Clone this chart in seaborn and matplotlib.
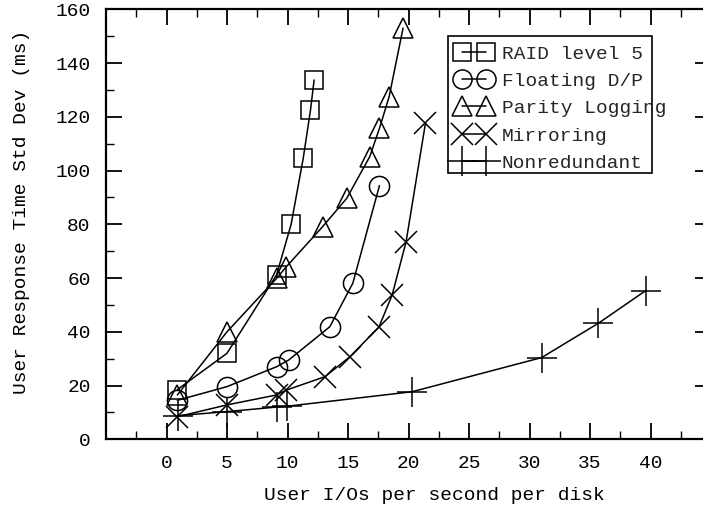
import matplotlib
matplotlib.use("Agg")
import matplotlib.pyplot as plt
import seaborn as sns
import pandas as pd
from matplotlib.ticker import MultipleLocator, FixedLocator
from matplotlib.patches import Rectangle

raid5_x = [0.9, 5.0, 9.1, 10.3, 11.3, 11.9, 12.2]
raid5_y = [18.5, 32.0, 61.2, 80.0, 104.6, 122.5, 133.7]

float_x = [0.9, 5.0, 9.1, 10.1, 13.5, 15.4, 17.6]
float_y = [14.5, 19.6, 27.0, 29.5, 41.9, 58.1, 94.4]

parity_x = [0.9, 5.0, 9.1, 9.9, 12.9, 14.9, 16.8, 17.6, 18.4, 19.55]
parity_y = [16.5, 40.0, 59.9, 64.2, 79.1, 89.7, 105.2, 115.7, 127.5, 153.0]

mirror_x = [0.9, 5.0, 9.1, 9.9, 13.1, 15.15, 17.55, 18.65, 19.8, 21.4]
mirror_y = [8.4, 12.8, 16.5, 18.3, 23.3, 30.7, 41.7, 53.7, 73.5, 117.6]

nonred_x = [0.95, 5.0, 9.1, 9.97, 20.3, 31.0, 35.7, 39.6]
nonred_y = [8.8, 10.3, 12.0, 12.3, 17.7, 30.4, 43.2, 55.3]

labels = ["RAID level 5", "Floating D/P", "Parity Logging", "Mirroring", "Nonredundant"]
xlabel = "User I/Os per second per disk"
ylabel = "User Response Time Std Dev (ms)"
xticks = [0, 5, 10, 15, 20, 25, 30, 35, 40]
yticks = [0, 20, 40, 60, 80, 100, 120, 140, 160]

sns.set_style("ticks")
plt.rcParams['font.family'] = ['Liberation Mono', 'DejaVu Sans']

fig = plt.figure(figsize=(7.03, 5.12), dpi=100)
L, R, T, B = 106, 711, 9.3, 439.3
ax = fig.add_axes([L/703, 1-B/512, (R-L)/703, (B-T)/512])

def fx(px):
    return (px - L) / (R - L)

def fy(py):
    return (B - py) / (B - T)

series = [
    (raid5_x, raid5_y, 's', 13.5),
    (float_x, float_y, 'o', 14.5),
    (parity_x, parity_y, '^', 15),
    (mirror_x, mirror_y, 'x', 16),
    (nonred_x, nonred_y, '+', 22),
]
for (xs, ys, m, ms), lab in zip(series, labels):
    df = pd.DataFrame({"x": xs, "y": ys})
    sns.lineplot(data=df, x="x", y="y", ax=ax, color='k', linewidth=1.1,
                 marker=m, markersize=ms, markerfacecolor='none',
                 markeredgecolor='k', markeredgewidth=1.1,
                 sort=False, estimator=None, label=lab)

ax.set_xlim(-5, 45)
ax.set_ylim(0, 160)
ax.xaxis.set_major_locator(FixedLocator([-5] + xticks + [45]))
ax.set_xticklabels([''] + [str(t) for t in xticks] + [''])
ax.xaxis.set_minor_locator(MultipleLocator(2.5))
ax.yaxis.set_major_locator(FixedLocator(yticks))
ax.yaxis.set_minor_locator(MultipleLocator(10))
ax.tick_params(which='both', direction='in', top=True, right=True,
               labelsize=14, color='k', labelcolor='k')
ax.tick_params(which='major', length=11.5, width=1.3, pad=11)
ax.tick_params(which='minor', length=6, width=1.0)
for s in ax.spines.values():
    s.set_linewidth(1.6)
    s.set_color('k')

ax.set_xlabel(xlabel, fontsize=14, color='k')
ax.xaxis.set_label_coords(fx(434), fy(487), transform=ax.transAxes)
ax.set_ylabel(ylabel, fontsize=14, color='k')
ax.yaxis.set_label_coords(fx(30), fy(212), transform=ax.transAxes)

leg = ax.legend(loc='upper left', bbox_to_anchor=(fx(456), fy(45)),
                borderaxespad=0, numpoints=2, fontsize=14, frameon=False,
                handlelength=1.85, handletextpad=0.5, labelspacing=0.5,
                borderpad=0.0, markerscale=0.95)
ax.add_patch(Rectangle((fx(448), fy(173)), fx(652) - fx(448), fy(36) - fy(173),
                       transform=ax.transAxes, fill=False, edgecolor='k',
                       linewidth=1.2, zorder=5))

fig.savefig("out.png", dpi=100)
